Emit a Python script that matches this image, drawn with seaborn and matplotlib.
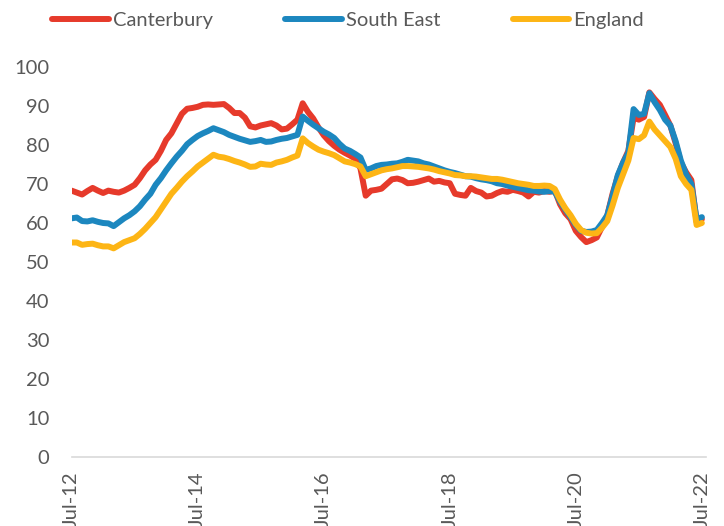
import numpy as np
import pandas as pd
import seaborn as sns
import matplotlib.pyplot as plt

# monthly values, Jul-12 .. Jul-22
canterbury = [
    68.3, 67.8, 67.3, 68.2, 69.0, 68.3, 67.7, 68.3, 68.0, 67.8, 68.3, 69.0,
    69.8, 71.5, 73.5, 75.0, 76.2, 78.5, 81.3, 83.0, 85.5, 88.0, 89.3, 89.5,
    89.8, 90.3, 90.4, 90.3, 90.4, 90.5, 89.5, 88.2, 88.2, 87.0, 84.8, 84.5,
    85.0, 85.3, 85.6, 85.0, 84.0, 84.2, 85.3, 86.5, 90.7, 88.5, 86.8, 84.5,
    82.5, 81.0, 79.8, 78.8, 78.0, 77.3, 76.5, 74.0, 67.0, 68.3, 68.5, 68.8,
    70.0, 71.2, 71.4, 71.0, 70.2, 70.3, 70.6, 71.0, 71.4, 70.6, 70.8, 70.4,
    70.2, 67.5, 67.2, 67.0, 69.0, 68.2, 67.8, 66.8, 67.0, 67.7, 68.2, 68.0,
    68.5, 68.2, 67.8, 66.8, 68.0, 67.8, 68.2, 68.0, 68.3, 64.8, 62.5, 61.0,
    58.0, 56.4, 55.1, 55.6, 56.3, 59.0, 62.0, 67.5, 72.0, 75.5, 78.5, 87.0,
    86.5, 87.2, 93.5, 91.8, 90.3, 87.7, 85.0, 80.5, 75.5, 73.0, 71.0, 60.3,
    61.0,
]
south_east = [
    61.2, 61.4, 60.5, 60.4, 60.7, 60.3, 60.0, 59.9, 59.2, 60.2, 61.2, 62.0,
    63.0, 64.3, 66.0, 67.5, 69.8, 71.5, 73.5, 75.3, 77.0, 78.5, 80.2, 81.3,
    82.3, 83.0, 83.6, 84.3, 83.8, 83.3, 82.6, 82.1, 81.6, 81.2, 80.8, 81.0,
    81.3, 80.8, 80.9, 81.3, 81.6, 81.8, 82.2, 82.6, 87.3, 86.2, 85.2, 84.3,
    83.4, 82.7, 81.8, 80.3, 79.1, 78.5, 77.7, 76.8, 73.6, 74.0, 74.6, 74.9,
    75.0, 75.2, 75.3, 75.7, 76.2, 76.0, 75.8, 75.3, 75.0, 74.5, 74.0, 73.5,
    73.1, 72.8, 72.4, 72.0, 71.9, 71.5, 71.2, 71.0, 70.7, 70.2, 70.0, 69.6,
    69.3, 69.0, 68.7, 68.4, 68.3, 68.1, 68.0, 68.2, 68.0, 65.5, 63.5, 61.5,
    59.5, 58.0, 57.7, 57.8, 58.2, 60.0, 62.0, 67.0, 72.3, 75.5, 78.0, 89.2,
    87.7, 88.0, 93.3, 91.0, 89.0, 86.5, 85.0, 81.0, 76.0, 72.5, 70.0, 61.0,
    61.5,
]
england = [
    55.0, 55.0, 54.4, 54.6, 54.7, 54.3, 54.0, 54.0, 53.5, 54.3, 55.1, 55.6,
    56.1, 57.2, 58.5, 60.0, 61.5, 63.5, 65.5, 67.5, 69.0, 70.6, 72.0, 73.2,
    74.5, 75.5, 76.5, 77.5, 77.0, 76.8, 76.4, 75.9, 75.5, 75.0, 74.4, 74.5,
    75.2, 75.0, 74.9, 75.5, 75.8, 76.2, 76.8, 77.3, 81.7, 80.5, 79.6, 78.8,
    78.3, 77.9, 77.4, 76.6, 75.8, 75.5, 75.1, 74.5, 72.0, 72.5, 73.0, 73.5,
    73.8, 74.0, 74.3, 74.6, 74.6, 74.5, 74.4, 74.2, 74.0, 73.7, 73.3, 73.0,
    72.7, 72.3, 72.2, 72.0, 72.0, 71.9, 71.7, 71.5, 71.3, 71.3, 71.1, 70.8,
    70.5, 70.2, 70.0, 69.8, 69.5, 69.5, 69.6, 69.5, 68.7, 66.0, 63.8, 62.0,
    59.8, 58.2, 57.5, 57.3, 57.4, 58.8, 60.5, 64.5, 69.0, 72.5, 76.0, 81.8,
    81.5, 82.5, 86.0, 84.0, 82.5, 81.0, 79.5, 76.5, 72.0, 70.0, 68.5, 59.5,
    60.0,
]
tick_labels = ["Jul-12", "Jul-14", "Jul-16", "Jul-18", "Jul-20", "Jul-22"]

months = np.arange(len(canterbury))
df = pd.DataFrame({
    "month": np.tile(months, 3),
    "value": canterbury + south_east + england,
    "area": ["Canterbury"] * len(months) + ["South East"] * len(months) + ["England"] * len(months),
})

sns.set_style("white")
plt.rcParams["font.family"] = ["Lato", "DejaVu Sans"]
grey = "#595959"
palette = {"Canterbury": "#E63A2B", "South East": "#1C87BF", "England": "#FDB515"}

fig = plt.figure(figsize=(7.24, 5.26), dpi=100)
ax = fig.add_axes([0.0989, 0.1312, 0.8756, 0.7414])

sns.lineplot(data=df, x="month", y="value", hue="area", palette=palette,
             linewidth=4.3, ax=ax, legend=False)

ax.set_xlim(0, 120.7)
ax.set_ylim(0, 100)
ax.set_yticks(range(0, 101, 10))
ax.set_xticks(range(0, 121, 24))
ax.set_xticklabels(tick_labels, rotation=90, va="top")
ax.set_xlabel("")
ax.set_ylabel("")

for s in ["top", "right", "left"]:
    ax.spines[s].set_visible(False)
ax.spines["bottom"].set_color("#d9d9d9")
ax.spines["bottom"].set_linewidth(1.2)

ax.tick_params(axis="y", length=0, pad=16, labelsize=14.5, labelcolor=grey)
ax.tick_params(axis="x", length=5.5, width=1.2, color="#d9d9d9", pad=5,
               labelsize=14.5, labelcolor=grey)

handles = [plt.Line2D([], [], color=palette[k], linewidth=4.3, solid_capstyle="round")
           for k in palette]
fig.legend(handles, list(palette), loc="center", bbox_to_anchor=(348 / 724, 1 - 20 / 526),
           ncol=3, frameon=False, fontsize=14.5, labelcolor=grey,
           handlelength=2.8, handletextpad=0.2, columnspacing=3.6)

fig.savefig("out.png", dpi=100)
